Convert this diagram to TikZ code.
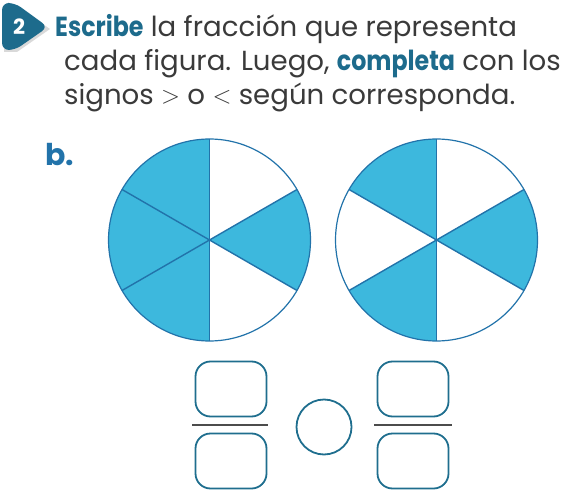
\documentclass[tikz,border=0pt]{standalone}
\usepackage{fontspec}
\setmainfont{Poppins}
\definecolor{txt}{HTML}{3A3A3A}
\definecolor{teal}{HTML}{1D6B8C}
\definecolor{pie}{HTML}{3DB8DD}
\definecolor{pieline}{HTML}{2273AA}
\definecolor{bbox}{HTML}{1F6E8E}
\newcommand{\keyword}[1]{\textcolor{teal}{\scalebox{0.86}[1]{\bfseries #1}}}
\tikzset{
  sector/.style={fill=pie},
  spoke/.style={draw=pieline, line width=1.4pt},
  rim/.style={draw=pieline, line width=1.2pt},
  numbox/.style={draw=bbox, line width=1.8pt, rounded corners=15pt, minimum width=71pt, minimum height=55pt, inner sep=0pt},
  fracline/.style={draw=black!70, line width=1.8pt},
  signcircle/.style={draw=bbox, line width=1.8pt, circle, minimum size=55pt, inner sep=0pt},
  line/.style={anchor=base west, inner sep=0pt, text=txt, font=\fontsize{27.6}{30}\selectfont},
}
\begin{document}
\begin{tikzpicture}[x=1pt,y=-1pt]
\useasboundingbox (0,0) rectangle (577,502);
% badge
\fill[black!15] (4,6) -- (17,6) -- (50,29) -- (17,52) -- (4,52) -- cycle;
\fill[teal, rounded corners=7pt] (2,3) -- (15,3) -- (48,27) -- (15,50) -- (2,50) -- cycle;
\node[text=white, font=\fontsize{21}{21}\bfseries\selectfont] (num) at (19,27) {2};
% text
\node[line] (l1) at (55,37) {\keyword{Escribe} la fracción que representa};
\node[line] (l2) at (64,71) {cada figura. Luego, \keyword{completa} con los};
\node[line] (l3) at (64,105) {signos \raisebox{1pt}{$>$} o \raisebox{1pt}{$<$} según corresponda.};
\node[anchor=base west, inner sep=0pt, text=pieline, font=\fontsize{30}{30}\bfseries\selectfont] (b) at (45,166) {b.};
% left pie
\coordinate (c1) at (209.5,240);
\foreach \a/\b in {90/150,150/210,210/270,330/390}
  \fill[sector] (c1) -- ++(\a:101) arc[start angle=\a, end angle=\b, radius=101] -- cycle;
\foreach \a in {90,150,210,270,330,30}
  \draw[spoke] (c1) -- ++(\a:101);
\draw[rim] (c1) circle[radius=101];
% right pie
\coordinate (c2) at (436.5,240);
\foreach \a/\b in {90/150,210/270,330/390}
  \fill[sector] (c2) -- ++(\a:101) arc[start angle=\a, end angle=\b, radius=101] -- cycle;
\foreach \a in {90,150,210,270,330,30}
  \draw[spoke] (c2) -- ++(\a:101);
\draw[rim] (c2) circle[radius=101];
% fractions
\node[numbox] (n1) at (231,389) {};
\node[numbox] (d1) at (231,461) {};
\coordinate (f1a) at (192,425);
\coordinate (f1b) at (268,425);
\draw[fracline] (f1a) -- (f1b);
\node[signcircle] (s) at (324,427) {};
\node[numbox] (n2) at (413,389) {};
\node[numbox] (d2) at (413,461) {};
\coordinate (f2a) at (374,425);
\coordinate (f2b) at (452,425);
\draw[fracline] (f2a) -- (f2b);
\end{tikzpicture}
\end{document}
